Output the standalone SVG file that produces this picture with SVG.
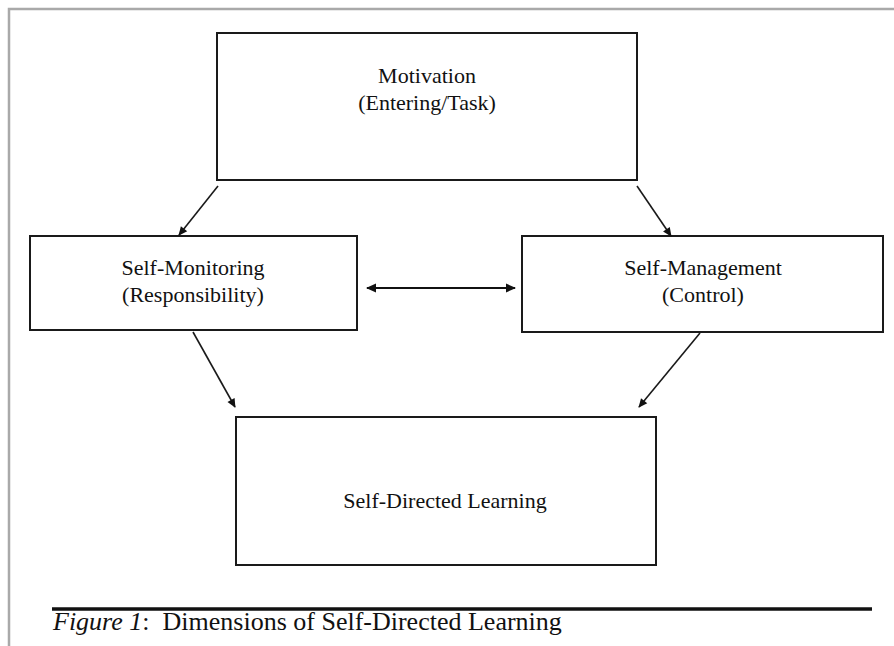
<svg xmlns="http://www.w3.org/2000/svg" width="894" height="646" viewBox="0 0 894 646">
  <style>
    .frame { fill: none; stroke: #a9a9a9; stroke-width: 2.5; }
    .box { fill: #ffffff; stroke: #1a1a1a; stroke-width: 2; }
    .label { font-family: "Liberation Serif", "Times New Roman", serif; font-size: 22px; fill: #111; text-anchor: middle; }
    .link { fill: none; stroke: #1a1a1a; stroke-width: 1.6; }
    .dbl { fill: none; stroke: #111; stroke-width: 2.2; }
    .rule { stroke: #111; stroke-width: 3.5; }
    .caption { font-family: "Liberation Serif", "Times New Roman", serif; font-size: 26px; fill: #111; }
  </style>
  <defs>
    <marker id="head" viewBox="0 0 10 10" refX="9" refY="5" markerWidth="10" markerHeight="9" markerUnits="userSpaceOnUse" orient="auto-start-reverse">
      <path d="M0,0.5 L10,5 L0,9.5 z" fill="#111"/>
    </marker>
    <marker id="head2" viewBox="0 0 10 10" refX="9" refY="5" markerWidth="11" markerHeight="10" markerUnits="userSpaceOnUse" orient="auto-start-reverse">
      <path d="M0,0.5 L10,5 L0,9.5 z" fill="#111"/>
    </marker>
  </defs>

  <rect width="894" height="646" fill="#ffffff"/>
  <!-- page frame (top and left edges) -->
  <path class="frame" d="M9,646 L9,9 L894,9"/>

  <g id="motivation">
    <rect class="box" x="217" y="33" width="420" height="147"/>
    <text class="label" x="427" y="83">Motivation</text>
    <text class="label" x="427" y="110">(Entering/Task)</text>
  </g>

  <g id="self-monitoring">
    <rect class="box" x="30" y="236" width="327" height="94"/>
    <text class="label" x="193" y="275">Self-Monitoring</text>
    <text class="label" x="193" y="302">(Responsibility)</text>
  </g>

  <g id="self-management">
    <rect class="box" x="522" y="236" width="361" height="96"/>
    <text class="label" x="703" y="275">Self-Management</text>
    <text class="label" x="703" y="302">(Control)</text>
  </g>

  <g id="self-directed-learning">
    <rect class="box" x="236" y="417" width="420" height="148"/>
    <text class="label" x="445" y="508">Self-Directed Learning</text>
  </g>

  <g id="connectors">
    <line class="link" x1="218" y1="186" x2="179" y2="235" marker-end="url(#head)"/>
    <line class="link" x1="637" y1="186" x2="671" y2="236" marker-end="url(#head)"/>
    <line class="dbl" x1="367" y1="288" x2="515" y2="288" marker-start="url(#head2)" marker-end="url(#head2)"/>
    <line class="link" x1="193" y1="332" x2="235" y2="407" marker-end="url(#head)"/>
    <line class="link" x1="700" y1="333" x2="639" y2="407" marker-end="url(#head)"/>
  </g>

  <g id="caption">
    <line class="rule" x1="52" y1="609" x2="872" y2="609"/>
    <text class="caption" x="53" y="630" xml:space="preserve"><tspan font-style="italic">Figure 1</tspan>:  Dimensions of Self-Directed Learning</text>
  </g>
</svg>
